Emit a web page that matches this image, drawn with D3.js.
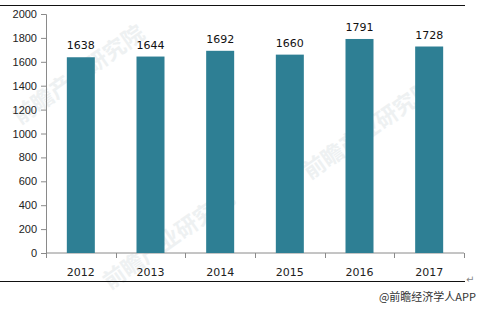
<!DOCTYPE html>
<html>
<head>
<meta charset="utf-8">
<script src="https://cdn.jsdelivr.net/npm/d3@7"></script>
<style>
  body { margin: 0; background: #fff; }
  svg { display: block; font-family: "DejaVu Sans", "Noto Sans", sans-serif; }
  .tick text { fill: #222; font-size: 11px; }
  .domain, .tick line { stroke: #8a8a8a; }
</style>
</head>
<body>
<script>
const W = 477, H = 309
const MARGIN = { top: 14, right: 13, bottom: 56, left: 46 }

// data
const years = ['2012', '2013', '2014', '2015', '2016', '2017']
const values = [1638, 1644, 1692, 1660, 1791, 1728]
const yTicks = [0, 200, 400, 600, 800, 1000, 1200, 1400, 1600, 1800, 2000]

const BAR_COLOR = '#2e7f94'

const svg = d3.select('body').append('svg')
  .attr('width', W)
  .attr('height', H)

// faint watermarks
const wm = svg.append('g').attr('fill', '#eef1f2').attr('font-size', 22)
  .attr('font-family', '"Noto Sans CJK SC", sans-serif').attr('font-weight', 'bold')
;[[20, 125], [110, 290], [310, 180]].forEach(([x, y]) => {
  wm.append('text').attr('transform', 'translate(' + [x, y] + ') rotate(-35)').text('前瞻产业研究院')
})

const width = W - MARGIN.left - MARGIN.right
const height = H - MARGIN.top - MARGIN.bottom

const xb = d3.scaleBand().domain(years).range([0, width])
const y = d3.scaleLinear().domain([0, 2000]).range([height, 0])

// top and bottom rule lines
svg.append('line').attr('x1', 0).attr('x2', 465).attr('y1', 5.5).attr('y2', 5.5)
  .attr('stroke', '#111').attr('stroke-width', 1)
svg.append('line').attr('x1', 0).attr('x2', 465).attr('y1', 281.5).attr('y2', 281.5)
  .attr('stroke', '#111').attr('stroke-width', 1)
svg.append('text').attr('x', 466).attr('y', 283).attr('font-size', 10).attr('fill', '#888').text('↵')

const g = svg.append('g').attr('transform', 'translate(' + [MARGIN.left, MARGIN.top] + ')')

g.append('g')
  .call(d3.axisLeft(y).tickValues(yTicks).tickFormat(d3.format('d')).tickSize(5).tickPadding(4))
  .call(a => a.selectAll('text').attr('fill', '#222'))

// x axis with ticks at band boundaries
const xAxis = g.append('g').attr('transform', 'translate(0,' + height + ')')
xAxis.append('path').attr('class', 'domain').attr('d', 'M0.5,0H' + width)
xAxis.selectAll('.bt')
  .data(years.map(d => xb(d)).concat([width]))
  .enter().append('line')
    .attr('stroke', '#8a8a8a')
    .attr('x1', d => Math.round(d) + 0.5).attr('x2', d => Math.round(d) + 0.5)
    .attr('y1', 0).attr('y2', 5)
xAxis.selectAll('.lbl')
  .data(years)
  .enter().append('text')
    .attr('x', d => xb(d) + xb.bandwidth() / 2)
    .attr('y', 23)
    .attr('text-anchor', 'middle')
    .attr('font-size', 11)
    .attr('fill', '#222')
    .text(d => d)

const data = years.map((yr, i) => ({ year: yr, value: values[i] }))

g.selectAll('.bar')
  .data(data)
  .enter().append('rect')
    .attr('x', d => xb(d.year) + xb.bandwidth() / 2 - 14)
    .attr('width', 28)
    .attr('y', d => y(d.value))
    .attr('height', d => height - y(d.value))
    .attr('fill', BAR_COLOR)

g.selectAll('.val')
  .data(data)
  .enter().append('text')
    .attr('x', d => xb(d.year) + xb.bandwidth() / 2)
    .attr('y', d => y(d.value) - 8)
    .attr('text-anchor', 'middle')
    .attr('font-size', 11)
    .attr('fill', '#111')
    .text(d => d.value)

svg.append('text')
  .attr('x', 476).attr('y', 301)
  .attr('text-anchor', 'end')
  .attr('font-size', 11)
  .attr('fill', '#333')
  .attr('font-family', '"Noto Sans CJK SC", sans-serif')
  .text('@前瞻经济学人APP')
</script>
</body>
</html>
